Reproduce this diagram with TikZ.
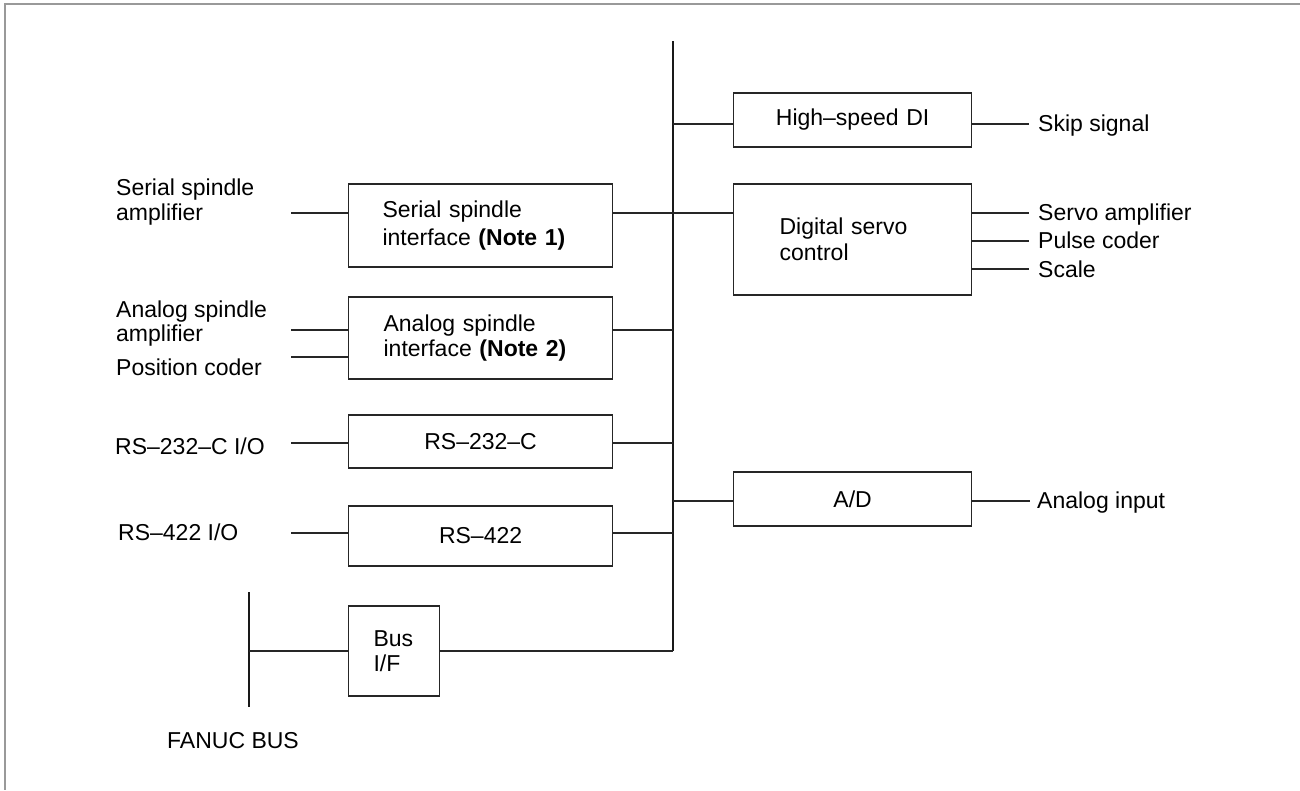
\documentclass[tikz,border=0pt]{standalone}
\usepackage{fontspec}
\setmainfont{Liberation Sans}
\begin{document}
\begin{tikzpicture}[x=1pt,y=-1pt,
  ln/.style={draw=black!85, line width=1.1pt},
  busline/.style={draw=black!90, line width=2.6pt},
  frameline/.style={draw=black!40, line width=2.6pt},
  box/.style={draw=black!85, line width=1.2pt, inner ysep=0pt, anchor=west},
  lbl/.style={inner sep=0pt, anchor=base west, align=left, font=\fontsize{23}{24.5}\selectfont}]
\useasboundingbox (0,0) rectangle (1300,790);
% frame
\draw[frameline] (1300,4) -- (5,4) -- (5,790);
% bus lines
\coordinate (bustop) at (673,41);
\coordinate (busbot) at (673,651);
\draw[busline] (bustop) -- (busbot);
\coordinate (fbtop) at (249,592);
\coordinate (fbbot) at (249,707);
\draw[busline] (fbtop) -- (fbbot);
% left boxes
\node[box, minimum width=264pt, minimum height=83pt, inner xsep=34pt, text width=196pt, align=left, font=\fontsize{23}{28}\selectfont] (ssi) at (348,225.5) {Serial spindle\\interface \textbf{(Note 1)}};
\node[box, minimum width=264pt, minimum height=82pt, inner xsep=35pt, text width=194pt, align=left, font=\fontsize{23}{25}\selectfont] (asi) at (348,338) {Analog spindle\\interface \textbf{(Note 2)}};
\node[box, minimum width=264pt, minimum height=53pt, inner xsep=0pt, text width=264pt, align=center, font=\fontsize{23}{26}\selectfont] (rsa) at (348,441.5) {RS–232–C};
\node[box, minimum width=264pt, minimum height=60pt, inner xsep=0pt, text width=264pt, align=center, font=\fontsize{23}{26}\selectfont] (rsb) at (348,536) {RS–422};
\node[box, minimum width=91pt, minimum height=90pt, inner xsep=25pt, text width=41pt, align=left, font=\fontsize{23}{25}\selectfont] (bif) at (348,651) {Bus\\I/F};
% right boxes
\node[box, minimum width=238pt, minimum height=54pt, inner xsep=0pt, text width=238pt, align=center, font=\fontsize{23}{26}\selectfont] (hsdi) at (733,120) {High–speed DI};
\node[box, minimum width=238pt, minimum height=111pt, inner xsep=46pt, text width=146pt, align=left, font=\fontsize{23}{26}\selectfont] (dsc) at (733,239.5) {Digital servo\\control};
\node[box, minimum width=238pt, minimum height=54pt, inner xsep=0pt, text width=238pt, align=center, font=\fontsize{23}{26}\selectfont] (ad) at (733,499) {A/D};
% left labels (base = baseline of last line)
\node[lbl] (lssa) at (116,220) {Serial spindle\\amplifier};
\node[lbl] (lasa) at (116,341.7) {Analog spindle\\amplifier};
\node[lbl] (lpc) at (116,375) {Position coder};
\node[lbl] (lrsa) at (115,454) {RS–232–C I/O};
\node[lbl] (lrsb) at (118,540) {RS–422 I/O};
\node[lbl] (lfb) at (167,748) {FANUC BUS};
% right labels
\node[lbl] (lskip) at (1038,131) {Skip signal};
\node[lbl] (lsa) at (1038,220) {Servo amplifier};
\node[lbl] (lpcr) at (1038,248) {Pulse coder};
\node[lbl] (lsc) at (1038,277) {Scale};
\node[lbl] (lai) at (1037,508) {Analog input};
% free ends
\coordinate (essa) at (291,213);
\coordinate (easa) at (291,330);
\coordinate (epc) at (291,357);
\coordinate (ersa) at (291,443);
\coordinate (ersb) at (291,533);
\coordinate (eskip) at (1029,124);
\coordinate (esa) at (1029,213);
\coordinate (epcr) at (1029,241);
\coordinate (esc) at (1029,269);
\coordinate (eai) at (1030,501);
% left connectors
\draw[ln] (essa) -- (essa -| ssi.west);
\draw[ln] (ssi.east |- essa) -- (dsc.west |- essa);
\draw[ln] (easa) -- (easa -| asi.west);
\draw[ln] (epc) -- (epc -| asi.west);
\draw[ln] (asi.east |- easa) -- (easa -| bustop);
\draw[ln] (ersa) -- (ersa -| rsa.west);
\draw[ln] (rsa.east |- ersa) -- (ersa -| bustop);
\draw[ln] (ersb) -- (ersb -| rsb.west);
\draw[ln] (rsb.east |- ersb) -- (ersb -| bustop);
\draw[ln] (bif.west -| fbtop) -- (bif.west);
\draw[ln] (bif.east) -- (busbot);
% right connectors
\draw[ln] (eskip -| bustop) -- (eskip -| hsdi.west);
\draw[ln] (eskip -| hsdi.east) -- (eskip);
\draw[ln] (esa -| dsc.east) -- (esa);
\draw[ln] (epcr -| dsc.east) -- (epcr);
\draw[ln] (esc -| dsc.east) -- (esc);
\draw[ln] (eai -| bustop) -- (eai -| ad.west);
\draw[ln] (eai -| ad.east) -- (eai);
\end{tikzpicture}
\end{document}
